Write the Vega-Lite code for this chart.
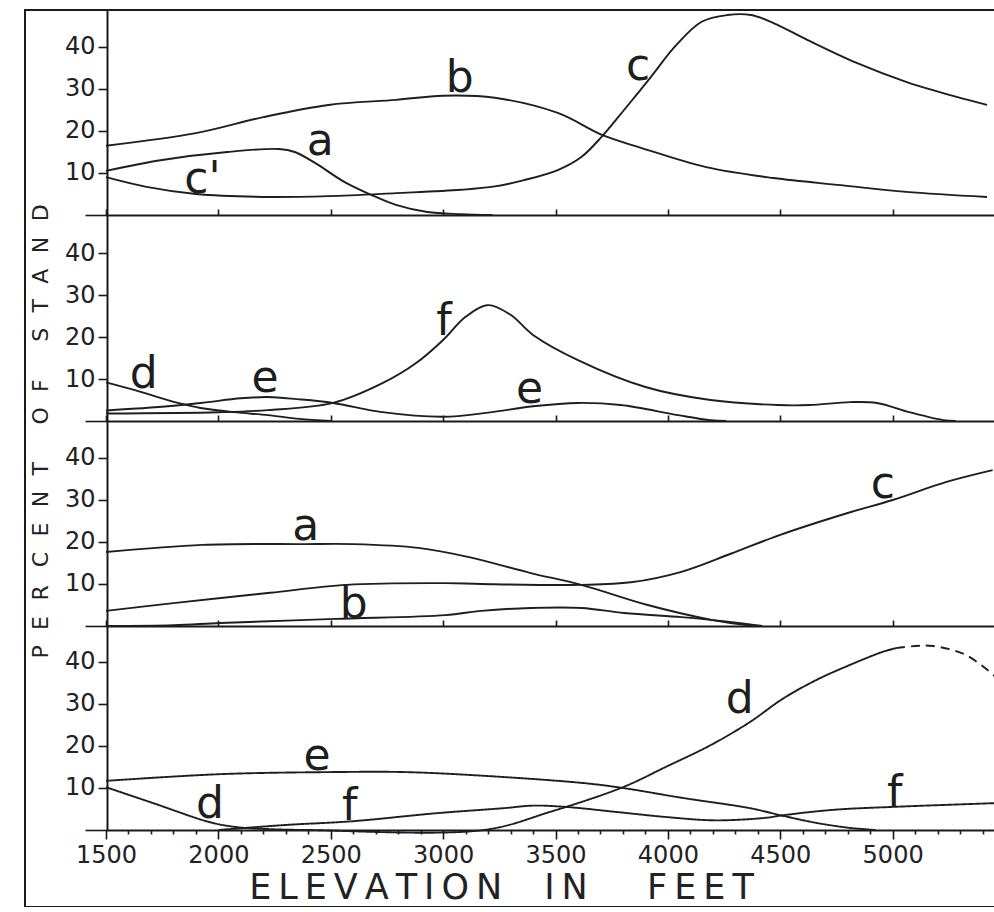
{
  "$schema": "https://vega.github.io/schema/vega-lite/v6.json",
  "width": 975,
  "height": 897,
  "autosize": "none",
  "padding": {"left": 25, "top": 10, "right": 0, "bottom": 0},
  "background": "white",
  "config": {
    "view": {"stroke": "#1a1a1a", "strokeWidth": 2},
    "axis": {"grid": false, "labelFont": "DejaVu Sans", "labelColor": "#222", "domainColor": "#1a1a1a", "tickColor": "#1a1a1a", "domainWidth": 2, "tickWidth": 1.6, "labelOverlap": false, "labelBound": false, "labelFlush": false, "titleFont": "DejaVu Sans", "titleFontWeight": "normal", "titleColor": "#222"}
  },
  "datasets": {
    "curves": [
      {"panel": 1, "series": "b", "elev": 1500, "pct": 16.5},
      {"panel": 1, "series": "b", "elev": 1900, "pct": 19.5},
      {"panel": 1, "series": "b", "elev": 2200, "pct": 23.3},
      {"panel": 1, "series": "b", "elev": 2490, "pct": 26.2},
      {"panel": 1, "series": "b", "elev": 2790, "pct": 27.4},
      {"panel": 1, "series": "b", "elev": 3000, "pct": 28.4},
      {"panel": 1, "series": "b", "elev": 3230, "pct": 27.9},
      {"panel": 1, "series": "b", "elev": 3510, "pct": 24.3},
      {"panel": 1, "series": "b", "elev": 3710, "pct": 19.0},
      {"panel": 1, "series": "b", "elev": 3880, "pct": 16.0},
      {"panel": 1, "series": "b", "elev": 4170, "pct": 11.4},
      {"panel": 1, "series": "b", "elev": 4470, "pct": 8.8},
      {"panel": 1, "series": "b", "elev": 4770, "pct": 7.1},
      {"panel": 1, "series": "b", "elev": 5060, "pct": 5.5},
      {"panel": 1, "series": "b", "elev": 5420, "pct": 4.3},
      {"panel": 1, "series": "a", "elev": 1500, "pct": 10.5},
      {"panel": 1, "series": "a", "elev": 1750, "pct": 13.1},
      {"panel": 1, "series": "a", "elev": 2040, "pct": 15.0},
      {"panel": 1, "series": "a", "elev": 2270, "pct": 15.7},
      {"panel": 1, "series": "a", "elev": 2340, "pct": 15.0},
      {"panel": 1, "series": "a", "elev": 2430, "pct": 12.4},
      {"panel": 1, "series": "a", "elev": 2560, "pct": 7.9},
      {"panel": 1, "series": "a", "elev": 2680, "pct": 4.8},
      {"panel": 1, "series": "a", "elev": 2790, "pct": 2.4},
      {"panel": 1, "series": "a", "elev": 2930, "pct": 0.7},
      {"panel": 1, "series": "a", "elev": 3080, "pct": 0.2},
      {"panel": 1, "series": "a", "elev": 3220, "pct": 0},
      {"panel": 1, "series": "c", "elev": 1500, "pct": 9.0},
      {"panel": 1, "series": "c", "elev": 1680, "pct": 6.7},
      {"panel": 1, "series": "c", "elev": 1900, "pct": 5.0},
      {"panel": 1, "series": "c", "elev": 2200, "pct": 4.3},
      {"panel": 1, "series": "c", "elev": 2490, "pct": 4.5},
      {"panel": 1, "series": "c", "elev": 2790, "pct": 5.2},
      {"panel": 1, "series": "c", "elev": 3080, "pct": 6.0},
      {"panel": 1, "series": "c", "elev": 3230, "pct": 6.8},
      {"panel": 1, "series": "c", "elev": 3360, "pct": 8.3},
      {"panel": 1, "series": "c", "elev": 3510, "pct": 10.7},
      {"panel": 1, "series": "c", "elev": 3615, "pct": 13.8},
      {"panel": 1, "series": "c", "elev": 3705, "pct": 18.6},
      {"panel": 1, "series": "c", "elev": 3805, "pct": 25.0},
      {"panel": 1, "series": "c", "elev": 3925, "pct": 32.9},
      {"panel": 1, "series": "c", "elev": 4030, "pct": 40.0},
      {"panel": 1, "series": "c", "elev": 4150, "pct": 46.0},
      {"panel": 1, "series": "c", "elev": 4265, "pct": 47.6},
      {"panel": 1, "series": "c", "elev": 4370, "pct": 47.6},
      {"panel": 1, "series": "c", "elev": 4470, "pct": 45.7},
      {"panel": 1, "series": "c", "elev": 4620, "pct": 41.7},
      {"panel": 1, "series": "c", "elev": 4840, "pct": 36.2},
      {"panel": 1, "series": "c", "elev": 5060, "pct": 31.7},
      {"panel": 1, "series": "c", "elev": 5285, "pct": 28.1},
      {"panel": 1, "series": "c", "elev": 5420, "pct": 26.2},
      {"panel": 2, "series": "d", "elev": 1500, "pct": 9.2},
      {"panel": 2, "series": "d", "elev": 1625, "pct": 7.4},
      {"panel": 2, "series": "d", "elev": 1820, "pct": 4.3},
      {"panel": 2, "series": "d", "elev": 1920, "pct": 3.1},
      {"panel": 2, "series": "d", "elev": 2070, "pct": 2.1},
      {"panel": 2, "series": "d", "elev": 2220, "pct": 1.4},
      {"panel": 2, "series": "d", "elev": 2360, "pct": 0.5},
      {"panel": 2, "series": "d", "elev": 2500, "pct": 0},
      {"panel": 2, "series": "e", "elev": 1500, "pct": 2.5},
      {"panel": 2, "series": "e", "elev": 1700, "pct": 3.2},
      {"panel": 2, "series": "e", "elev": 1920, "pct": 4.3},
      {"panel": 2, "series": "e", "elev": 2100, "pct": 5.4},
      {"panel": 2, "series": "e", "elev": 2220, "pct": 5.7},
      {"panel": 2, "series": "e", "elev": 2350, "pct": 5.2},
      {"panel": 2, "series": "e", "elev": 2510, "pct": 4.3},
      {"panel": 2, "series": "e", "elev": 2730, "pct": 2.1},
      {"panel": 2, "series": "e", "elev": 3000, "pct": 1.0},
      {"panel": 2, "series": "e", "elev": 3200, "pct": 2.0},
      {"panel": 2, "series": "e", "elev": 3400, "pct": 3.5},
      {"panel": 2, "series": "e", "elev": 3600, "pct": 4.3},
      {"panel": 2, "series": "e", "elev": 3790, "pct": 3.8},
      {"panel": 2, "series": "e", "elev": 4045, "pct": 1.4},
      {"panel": 2, "series": "e", "elev": 4190, "pct": 0.2},
      {"panel": 2, "series": "e", "elev": 4260, "pct": 0},
      {"panel": 2, "series": "f", "elev": 1500, "pct": 1.8},
      {"panel": 2, "series": "f", "elev": 2000, "pct": 2.1},
      {"panel": 2, "series": "f", "elev": 2220, "pct": 2.6},
      {"panel": 2, "series": "f", "elev": 2510, "pct": 4.3},
      {"panel": 2, "series": "f", "elev": 2730, "pct": 9.0},
      {"panel": 2, "series": "f", "elev": 2880, "pct": 13.8},
      {"panel": 2, "series": "f", "elev": 3000, "pct": 19.3},
      {"panel": 2, "series": "f", "elev": 3100, "pct": 24.8},
      {"panel": 2, "series": "f", "elev": 3200, "pct": 27.6},
      {"panel": 2, "series": "f", "elev": 3300, "pct": 25.3},
      {"panel": 2, "series": "f", "elev": 3400, "pct": 20.5},
      {"panel": 2, "series": "f", "elev": 3600, "pct": 14.5},
      {"panel": 2, "series": "f", "elev": 3900, "pct": 8.1},
      {"panel": 2, "series": "f", "elev": 4190, "pct": 5.0},
      {"panel": 2, "series": "f", "elev": 4490, "pct": 3.8},
      {"panel": 2, "series": "f", "elev": 4630, "pct": 3.8},
      {"panel": 2, "series": "f", "elev": 4810, "pct": 4.5},
      {"panel": 2, "series": "f", "elev": 4930, "pct": 4.3},
      {"panel": 2, "series": "f", "elev": 5075, "pct": 2.1},
      {"panel": 2, "series": "f", "elev": 5225, "pct": 0.2},
      {"panel": 2, "series": "f", "elev": 5280, "pct": 0},
      {"panel": 3, "series": "a", "elev": 1500, "pct": 17.6},
      {"panel": 3, "series": "a", "elev": 1930, "pct": 19.3},
      {"panel": 3, "series": "a", "elev": 2380, "pct": 19.5},
      {"panel": 3, "series": "a", "elev": 2600, "pct": 19.5},
      {"panel": 3, "series": "a", "elev": 2890, "pct": 18.6},
      {"panel": 3, "series": "a", "elev": 3115, "pct": 16.4},
      {"panel": 3, "series": "a", "elev": 3390, "pct": 12.6},
      {"panel": 3, "series": "a", "elev": 3615, "pct": 9.8},
      {"panel": 3, "series": "a", "elev": 3910, "pct": 5.0},
      {"panel": 3, "series": "a", "elev": 4200, "pct": 1.4},
      {"panel": 3, "series": "a", "elev": 4350, "pct": 0.2},
      {"panel": 3, "series": "a", "elev": 4420, "pct": 0},
      {"panel": 3, "series": "c", "elev": 1500, "pct": 3.6},
      {"panel": 3, "series": "c", "elev": 1810, "pct": 5.5},
      {"panel": 3, "series": "c", "elev": 2230, "pct": 7.9},
      {"panel": 3, "series": "c", "elev": 2570, "pct": 9.8},
      {"panel": 3, "series": "c", "elev": 3010, "pct": 10.2},
      {"panel": 3, "series": "c", "elev": 3170, "pct": 10.0},
      {"panel": 3, "series": "c", "elev": 3615, "pct": 9.8},
      {"panel": 3, "series": "c", "elev": 3835, "pct": 10.4},
      {"panel": 3, "series": "c", "elev": 4060, "pct": 12.9},
      {"panel": 3, "series": "c", "elev": 4280, "pct": 17.2},
      {"panel": 3, "series": "c", "elev": 4500, "pct": 21.7},
      {"panel": 3, "series": "c", "elev": 4800, "pct": 26.9},
      {"panel": 3, "series": "c", "elev": 5000, "pct": 30.0},
      {"panel": 3, "series": "c", "elev": 5240, "pct": 34.3},
      {"panel": 3, "series": "c", "elev": 5445, "pct": 37.1},
      {"panel": 3, "series": "b", "elev": 1500, "pct": 0},
      {"panel": 3, "series": "b", "elev": 1800, "pct": 0.2},
      {"panel": 3, "series": "b", "elev": 2010, "pct": 0.7},
      {"panel": 3, "series": "b", "elev": 2520, "pct": 1.7},
      {"panel": 3, "series": "b", "elev": 3010, "pct": 2.6},
      {"panel": 3, "series": "b", "elev": 3170, "pct": 3.6},
      {"panel": 3, "series": "b", "elev": 3390, "pct": 4.3},
      {"panel": 3, "series": "b", "elev": 3615, "pct": 4.3},
      {"panel": 3, "series": "b", "elev": 3805, "pct": 3.1},
      {"panel": 3, "series": "b", "elev": 4060, "pct": 2.1},
      {"panel": 3, "series": "b", "elev": 4200, "pct": 1.4},
      {"panel": 3, "series": "b", "elev": 4350, "pct": 0.5},
      {"panel": 3, "series": "b", "elev": 4420, "pct": 0},
      {"panel": 4, "series": "e", "elev": 1500, "pct": 11.7},
      {"panel": 4, "series": "e", "elev": 2010, "pct": 13.3},
      {"panel": 4, "series": "e", "elev": 2520, "pct": 13.8},
      {"panel": 4, "series": "e", "elev": 2820, "pct": 13.8},
      {"panel": 4, "series": "e", "elev": 3120, "pct": 13.1},
      {"panel": 4, "series": "e", "elev": 3620, "pct": 11.2},
      {"panel": 4, "series": "e", "elev": 3800, "pct": 10.0},
      {"panel": 4, "series": "e", "elev": 4070, "pct": 7.6},
      {"panel": 4, "series": "e", "elev": 4365, "pct": 5.2},
      {"panel": 4, "series": "e", "elev": 4510, "pct": 3.4},
      {"panel": 4, "series": "e", "elev": 4660, "pct": 1.7},
      {"panel": 4, "series": "e", "elev": 4810, "pct": 0.5},
      {"panel": 4, "series": "e", "elev": 4925, "pct": 0},
      {"panel": 4, "series": "d", "elev": 1500, "pct": 10.2},
      {"panel": 4, "series": "d", "elev": 1710, "pct": 6.4},
      {"panel": 4, "series": "d", "elev": 1960, "pct": 1.9},
      {"panel": 4, "series": "d", "elev": 2080, "pct": 0.7},
      {"panel": 4, "series": "d", "elev": 2230, "pct": 0.2},
      {"panel": 4, "series": "d", "elev": 2400, "pct": 0},
      {"panel": 4, "series": "d", "elev": 3180, "pct": 0},
      {"panel": 4, "series": "d", "elev": 3475, "pct": 4.3},
      {"panel": 4, "series": "d", "elev": 3800, "pct": 10.2},
      {"panel": 4, "series": "d", "elev": 3990, "pct": 15.0},
      {"panel": 4, "series": "d", "elev": 4190, "pct": 20.2},
      {"panel": 4, "series": "d", "elev": 4365, "pct": 25.7},
      {"panel": 4, "series": "d", "elev": 4510, "pct": 31.2},
      {"panel": 4, "series": "d", "elev": 4660, "pct": 35.7},
      {"panel": 4, "series": "d", "elev": 4810, "pct": 39.3},
      {"panel": 4, "series": "d", "elev": 4955, "pct": 42.4},
      {"panel": 4, "series": "d", "elev": 5015, "pct": 43.3},
      {"panel": 4, "series": "d projected", "elev": 5015, "pct": 43.3},
      {"panel": 4, "series": "d projected", "elev": 5100, "pct": 43.8},
      {"panel": 4, "series": "d projected", "elev": 5180, "pct": 43.8},
      {"panel": 4, "series": "d projected", "elev": 5325, "pct": 41.7},
      {"panel": 4, "series": "d projected", "elev": 5460, "pct": 36.4},
      {"panel": 4, "series": "f", "elev": 2000, "pct": 0},
      {"panel": 4, "series": "f", "elev": 2300, "pct": 1.2},
      {"panel": 4, "series": "f", "elev": 2600, "pct": 2.1},
      {"panel": 4, "series": "f", "elev": 2970, "pct": 4.0},
      {"panel": 4, "series": "f", "elev": 3270, "pct": 5.2},
      {"panel": 4, "series": "f", "elev": 3400, "pct": 5.8},
      {"panel": 4, "series": "f", "elev": 3545, "pct": 5.5},
      {"panel": 4, "series": "f", "elev": 3770, "pct": 4.3},
      {"panel": 4, "series": "f", "elev": 3990, "pct": 3.1},
      {"panel": 4, "series": "f", "elev": 4210, "pct": 2.3},
      {"panel": 4, "series": "f", "elev": 4435, "pct": 2.9},
      {"panel": 4, "series": "f", "elev": 4510, "pct": 3.5},
      {"panel": 4, "series": "f", "elev": 4735, "pct": 4.8},
      {"panel": 4, "series": "f", "elev": 5000, "pct": 5.5},
      {"panel": 4, "series": "f", "elev": 5460, "pct": 6.4}
    ],
    "labels": [
      {"panel": 1, "label": "b", "elev": 3074, "pct": 29.3},
      {"panel": 1, "label": "a", "elev": 2453, "pct": 14.3},
      {"panel": 1, "label": "c'", "elev": 1929, "pct": 5.2},
      {"panel": 1, "label": "c", "elev": 3868, "pct": 32.1},
      {"panel": 2, "label": "d", "elev": 1668, "pct": 7.9},
      {"panel": 2, "label": "e", "elev": 2208, "pct": 6.9},
      {"panel": 2, "label": "f", "elev": 3004, "pct": 20.5},
      {"panel": 2, "label": "e", "elev": 3385, "pct": 4.3},
      {"panel": 3, "label": "a", "elev": 2389, "pct": 20.5},
      {"panel": 3, "label": "b", "elev": 2602, "pct": 1.9},
      {"panel": 3, "label": "c", "elev": 4956, "pct": 30.5},
      {"panel": 4, "label": "e", "elev": 2439, "pct": 14.3},
      {"panel": 4, "label": "d", "elev": 1963, "pct": 2.9},
      {"panel": 4, "label": "f", "elev": 2585, "pct": 2.4},
      {"panel": 4, "label": "d", "elev": 4320, "pct": 27.9},
      {"panel": 4, "label": "f", "elev": 5010, "pct": 5.5}
    ]
  },
  "layer": [
    {
      "encoding": {
        "x": {"field": "elev", "type": "quantitative", "scale": {"domain": [1500, 5500], "range": [81, 980], "nice": false, "zero": false},
              "axis": {"orient": "top", "offset": -205, "values": [1500, 2000, 2500, 3000, 3500, 4000, 4500, 5000], "labels": false, "tickSize": 6, "title": null}},
        "y": {"field": "pct", "type": "quantitative", "scale": {"domain": [0, 48.8], "range": [205, 0], "nice": false},
              "axis": {"orient": "left", "offset": -82, "values": [0, 10, 20, 30, 40], "labelExpr": "datum.value === 0 ? '' : datum.label", "tickSize": {"condition": {"test": "datum.value === 0", "value": 22}, "value": 9}, "labelFontSize": 24, "labelPadding": 3, "title": null}}
      },
      "layer": [
        {"data": {"name": "curves"}, "transform": [{"filter": "datum.panel === 1"}],
         "mark": {"type": "line", "interpolate": "catmull-rom", "color": "#1e1e1e", "strokeWidth": 1.9},
         "encoding": {"detail": {"field": "series"}}},
        {"data": {"name": "labels"}, "transform": [{"filter": "datum.panel === 1"}],
         "mark": {"type": "text", "font": "DejaVu Sans", "fontSize": 44, "color": "#1e1e1e", "align": "center", "baseline": "alphabetic"},
         "encoding": {"text": {"field": "label"}}}
      ]
    },
    {
      "encoding": {
        "x": {"field": "elev", "type": "quantitative", "scale": {"domain": [1500, 5500], "range": [81, 980], "nice": false, "zero": false},
              "axis": {"orient": "top", "offset": -411, "values": [1500, 2000, 2500, 3000, 3500, 4000, 4500, 5000], "labels": false, "tickSize": 6, "title": null}},
        "y": {"field": "pct", "type": "quantitative", "scale": {"domain": [0, 49.05], "range": [411, 205], "nice": false},
              "axis": {"orient": "left", "offset": -82, "values": [0, 10, 20, 30, 40], "labelExpr": "datum.value === 0 ? '' : datum.label", "tickSize": {"condition": {"test": "datum.value === 0", "value": 22}, "value": 9}, "labelFontSize": 24, "labelPadding": 3,
                       "title": "P\u2002\u2009E\u2002\u2009R \u2002C\u2002\u2009E\u2002\u2009N\u2002\u2009T\u2003\u2002\u2009O\u2002\u2009F\u2003\u2002\u2009S\u2002\u2009T\u2002\u2009A\u2002\u2009N\u2002\u2009D",
                       "titleFontSize": 22, "titleAngle": 270, "titleX": -67, "titleY": 421, "titleAlign": "center", "titleBaseline": "middle"}}
      },
      "layer": [
        {"data": {"name": "curves"}, "transform": [{"filter": "datum.panel === 2"}],
         "mark": {"type": "line", "interpolate": "catmull-rom", "color": "#1e1e1e", "strokeWidth": 1.9},
         "encoding": {"detail": {"field": "series"}}},
        {"data": {"name": "labels"}, "transform": [{"filter": "datum.panel === 2"}],
         "mark": {"type": "text", "font": "DejaVu Sans", "fontSize": 44, "color": "#1e1e1e", "align": "center", "baseline": "alphabetic"},
         "encoding": {"text": {"field": "label"}}}
      ]
    },
    {
      "encoding": {
        "x": {"field": "elev", "type": "quantitative", "scale": {"domain": [1500, 5500], "range": [81, 980], "nice": false, "zero": false},
              "axis": {"orient": "top", "offset": -616, "values": [1500, 2000, 2500, 3000, 3500, 4000, 4500, 5000], "labels": false, "tickSize": 6, "title": null}},
        "y": {"field": "pct", "type": "quantitative", "scale": {"domain": [0, 48.8], "range": [616, 411], "nice": false},
              "axis": {"orient": "left", "offset": -82, "values": [0, 10, 20, 30, 40], "labelExpr": "datum.value === 0 ? '' : datum.label", "tickSize": {"condition": {"test": "datum.value === 0", "value": 22}, "value": 9}, "labelFontSize": 24, "labelPadding": 3, "title": null}}
      },
      "layer": [
        {"data": {"name": "curves"}, "transform": [{"filter": "datum.panel === 3"}],
         "mark": {"type": "line", "interpolate": "catmull-rom", "color": "#1e1e1e", "strokeWidth": 1.9},
         "encoding": {"detail": {"field": "series"}}},
        {"data": {"name": "labels"}, "transform": [{"filter": "datum.panel === 3"}],
         "mark": {"type": "text", "font": "DejaVu Sans", "fontSize": 44, "color": "#1e1e1e", "align": "center", "baseline": "alphabetic"},
         "encoding": {"text": {"field": "label"}}}
      ]
    },
    {
      "encoding": {
        "x": {"field": "elev", "type": "quantitative", "scale": {"domain": [1500, 5500], "range": [81, 980], "nice": false, "zero": false},
              "axis": {"orient": "bottom", "offset": -77,
                       "values": [1500, 1600, 1700, 1800, 1900, 2000, 2100, 2200, 2300, 2400, 2500, 2600, 2700, 2800, 2900, 3000, 3100, 3200, 3300, 3400, 3500, 3600, 3700, 3800, 3900, 4000, 4100, 4200, 4300, 4400, 4500, 4600, 4700, 4800, 4900, 5000, 5100, 5200, 5300, 5400],
                       "format": "d", "labelExpr": "datum.value % 500 === 0 ? datum.label : ''",
                       "tickSize": {"condition": {"test": "datum.value % 500 === 0", "value": 9}, "value": 4},
                       "labelFontSize": 24, "labelPadding": 4,
                       "title": "E\u2009L\u2009E\u2009V\u2009A\u2009T\u2009I\u2009O\u2009N\u2003\u2009I\u2009N\u2003\u2002\u2009F\u2009E\u2009E\u2009T",
                       "titleFontSize": 35, "titleX": 476, "titleY": 68, "titleAlign": "center", "titleBaseline": "alphabetic", "titleAngle": 0}},
        "y": {"field": "pct", "type": "quantitative", "scale": {"domain": [0, 48.57], "range": [820, 616], "nice": false},
              "axis": {"orient": "left", "offset": -82, "values": [0, 10, 20, 30, 40], "labelExpr": "datum.value === 0 ? '' : datum.label", "tickSize": {"condition": {"test": "datum.value === 0", "value": 22}, "value": 9}, "labelFontSize": 24, "labelPadding": 3, "title": null}}
      },
      "layer": [
        {"data": {"name": "curves"}, "transform": [{"filter": "datum.panel === 4"}],
         "mark": {"type": "line", "interpolate": "catmull-rom", "color": "#1e1e1e", "strokeWidth": 1.9},
         "encoding": {"detail": {"field": "series"},
                      "strokeDash": {"field": "series", "type": "nominal", "scale": {"domain": ["d", "d projected", "e", "f"], "range": [[1, 0], [9, 6], [1, 0], [1, 0]]}, "legend": null}}},
        {"data": {"name": "labels"}, "transform": [{"filter": "datum.panel === 4"}],
         "mark": {"type": "text", "font": "DejaVu Sans", "fontSize": 44, "color": "#1e1e1e", "align": "center", "baseline": "alphabetic"},
         "encoding": {"text": {"field": "label"}}}
      ]
    }
  ],
  "resolve": {"scale": {"x": "independent", "y": "independent"}, "axis": {"x": "independent", "y": "independent"}}
}
